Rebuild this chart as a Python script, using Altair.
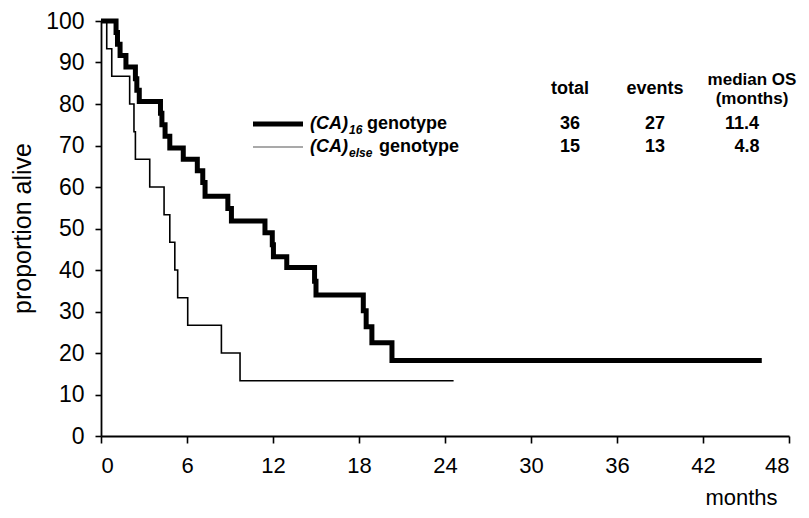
import altair as alt
import pandas as pd

# ---- data ----
# (CA)16 genotype: step times (months) and survival (%) after each step
ca16_time = [0.0, 1.05, 1.15, 1.33, 1.74, 2.4, 2.5, 2.67, 4.15, 4.25, 4.47, 4.8,
             5.74, 6.72, 7.1, 7.26, 8.85, 9.1, 11.44, 11.95, 12.03, 12.96, 14.9,
             15.0, 18.3, 18.5, 18.9, 20.3, 46.1]
ca16_surv = [100, 97.2, 94.4, 91.7, 88.9, 86.1, 83.3, 80.6, 77.8, 75.0, 72.2, 69.4,
             66.7, 63.9, 61.1, 57.8, 54.8, 51.8, 49.0, 46.1, 43.2, 40.6, 37.3,
             34.0, 30.2, 26.3, 22.5, 18.2, 18.2]

# (CA)else genotype
caelse_time = [0.0, 0.4, 0.75, 2.0, 2.3, 2.4, 3.4, 4.4, 4.8, 5.15, 5.35, 6.05,
               8.4, 9.7, 24.6]
caelse_surv = [100, 93.3, 86.7, 80.0, 73.3, 66.7, 60.0, 53.3, 46.7, 40.0, 33.3,
               26.7, 20.0, 13.3, 13.3]

x_ticks = [0, 6, 12, 18, 24, 30, 36, 42, 48]
y_ticks = [0, 10, 20, 30, 40, 50, 60, 70, 80, 90, 100]

headers = ["total", "events"]
median_header = ["median OS", "(months)"]
totals = ["36", "15"]
events = ["27", "13"]
medians = ["11.4", "4.8"]
subscripts = ["16", "else"]

# ---- layout ----
W, H = 688, 415
FONT = "Liberation Sans, Arial, Helvetica, sans-serif"

df = pd.concat([
    pd.DataFrame({"t": ca16_time, "s": ca16_surv, "g": "ca16"}),
    pd.DataFrame({"t": caelse_time, "s": caelse_surv, "g": "caelse"}),
])

x_enc = alt.X("t:Q", scale=alt.Scale(domain=[0, 48], nice=False, zero=False),
              axis=alt.Axis(values=x_ticks, title="months", grid=False,
                            labelFontSize=22, labelFont=FONT, labelColor="black",
                            labelPadding=12, tickSize=7, tickWidth=1.6,
                            tickColor="black", domainColor="black", domainWidth=1.8,
                            titleFont=FONT, titleFontSize=22, titleFontWeight="normal",
                            titleColor="black", titleX=640, titleY=73,
                            titleAlign="center", titleBaseline="bottom"))
y_enc = alt.Y("s:Q", scale=alt.Scale(domain=[0, 100], nice=False, zero=True),
              axis=alt.Axis(values=y_ticks, title="proportion alive", grid=False,
                            labelFontSize=23, labelFont=FONT, labelColor="black",
                            labelPadding=11, tickSize=6, tickWidth=1.6,
                            tickColor="black", domainColor="black", domainWidth=1.8,
                            titleFont=FONT, titleFontSize=25, titleFontWeight="normal",
                            titleColor="black", titleX=-79, titleY=207,
                            titleAngle=-90, titleAlign="center",
                            titleBaseline="middle"))

base = alt.Chart(df)
thick = base.transform_filter(alt.datum.g == "ca16").mark_line(
    interpolate="step-after", color="black", strokeWidth=5, strokeJoin="miter",
    strokeCap="butt").encode(x=x_enc, y=y_enc)
thin = base.transform_filter(alt.datum.g == "caelse").mark_line(
    interpolate="step-after", color="black", strokeWidth=1.6).encode(x="t:Q", y="s:Q")

layers = [thin, thick]


def txt(s, x, y, size=18, weight="bold", style="normal", align="center"):
    return alt.Chart(pd.DataFrame({"v": [s]})).mark_text(
        font=FONT, fontSize=size, fontWeight=weight, fontStyle=style,
        align=align, baseline="middle", color="black").encode(
        text="v:N", x=alt.value(x), y=alt.value(y))


ox, oy = 101, 21
cols = [570 - ox, 655 - ox]
for i, h in enumerate(headers):
    layers.append(txt(h, cols[i], 89 - oy))
layers.append(txt(median_header[0], 752 - ox, 80 - oy, size=17))
layers.append(txt(median_header[1], 752 - ox, 99 - oy, size=17))

rows = [124 - oy, 147 - oy]
for r in range(2):
    layers.append(txt(totals[r], cols[0], rows[r]))
    layers.append(txt(events[r], cols[1], rows[r]))
    layers.append(txt(medians[r], (742 if r == 0 else 747) - ox, rows[r]))
    layers.append(txt("(CA)", 310 - ox, rows[r], style="italic", align="left"))
    layers.append(txt(subscripts[r], 349 - ox, rows[r] + 6, size=12,
                      style="italic", align="left"))
    layers.append(txt("genotype", (367 if r == 0 else 379) - ox, rows[r], align="left"))

# legend line samples
layers.append(alt.Chart(pd.DataFrame({"v": [0]})).mark_rule(
    color="black", strokeWidth=5).encode(
    x=alt.value(253 - ox), x2=alt.value(303 - ox), y=alt.value(rows[0])))
layers.append(alt.Chart(pd.DataFrame({"v": [0]})).mark_rule(
    color="#555555", strokeWidth=1.2).encode(
    x=alt.value(253 - ox), x2=alt.value(303 - ox), y=alt.value(rows[1])))

chart = alt.layer(*layers).properties(
    width=W, height=H,
    padding={"left": 93, "top": 13, "right": 12, "bottom": 74},
    autosize=alt.AutoSizeParams(type="none"),
    background="white",
).configure_view(stroke=None)

chart.save("out.html", embed_options={"renderer": "svg", "actions": False})
